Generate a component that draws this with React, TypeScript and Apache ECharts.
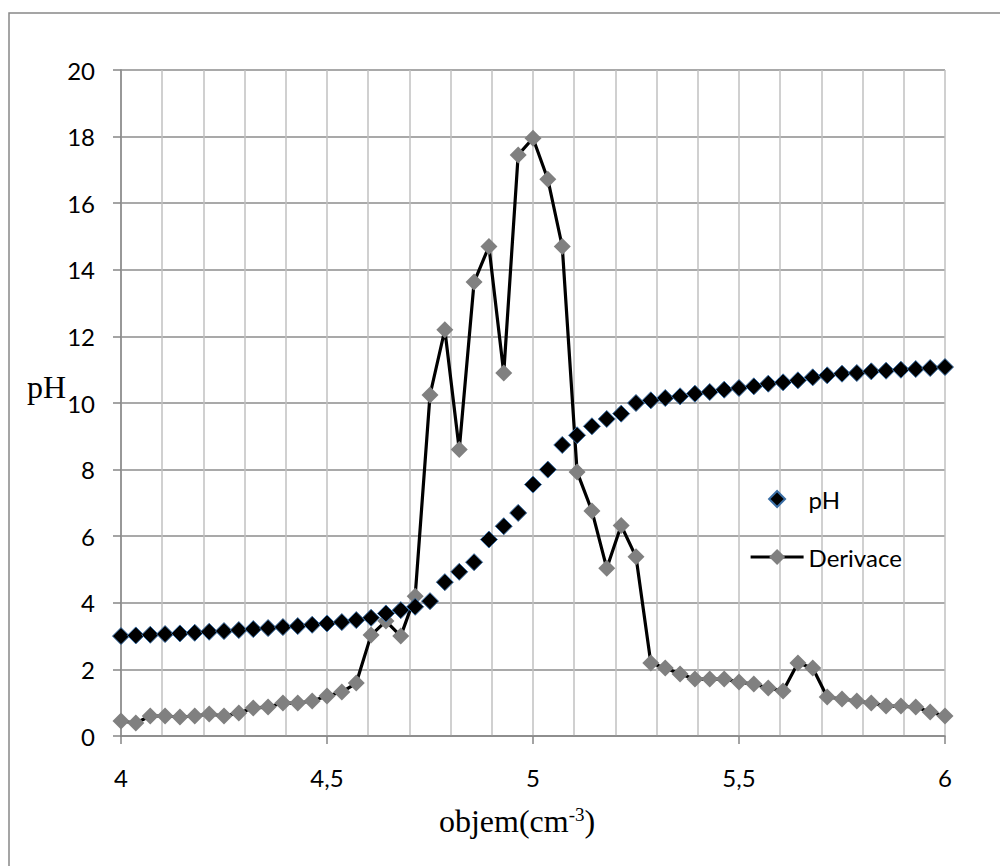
import React, { useEffect, useRef } from "react";
import * as echarts from "echarts";

const volume = [
  4, 4.036, 4.071, 4.107, 4.143, 4.179, 4.214, 4.25, 4.286, 4.321, 4.357, 4.393, 4.429, 4.464,
  4.5, 4.536, 4.571, 4.607, 4.643, 4.679, 4.714, 4.75, 4.786, 4.821, 4.857, 4.893, 4.929, 4.964,
  5, 5.036, 5.071, 5.107, 5.143, 5.179, 5.214, 5.25, 5.286, 5.321, 5.357, 5.393, 5.429, 5.464,
  5.5, 5.536, 5.571, 5.607, 5.643, 5.679, 5.714, 5.75, 5.786, 5.821, 5.857, 5.893, 5.929, 5.964, 6,
];

const phValues = [
  3.0, 3.02, 3.04, 3.06, 3.08, 3.1, 3.13, 3.15, 3.18, 3.21, 3.24, 3.27, 3.3, 3.34,
  3.38, 3.42, 3.48, 3.55, 3.68, 3.78, 3.88, 4.05, 4.62, 4.93, 5.22, 5.9, 6.3, 6.7,
  7.55, 8.0, 8.74, 9.03, 9.3, 9.52, 9.68, 10.0, 10.08, 10.15, 10.2, 10.28, 10.33, 10.4,
  10.45, 10.5, 10.58, 10.62, 10.68, 10.77, 10.83, 10.88, 10.9, 10.95, 10.97, 11.0, 11.02, 11.05, 11.08,
];

const derivace = [
  0.45, 0.39, 0.6, 0.6, 0.57, 0.6, 0.66, 0.6, 0.69, 0.84, 0.87, 0.99, 0.99, 1.05,
  1.2, 1.32, 1.59, 3.03, 3.45, 3.0, 4.2, 10.24, 12.2, 8.6, 13.63, 14.7, 10.9, 17.45,
  17.95, 16.72, 14.7, 7.93, 6.76, 5.04, 6.32, 5.38, 2.19, 2.04, 1.86, 1.71, 1.71, 1.71,
  1.62, 1.56, 1.44, 1.35, 2.19, 2.04, 1.17, 1.11, 1.05, 0.99, 0.9, 0.9, 0.87, 0.72, 0.6,
];

const seriesNames = ["pH", "Derivace"];
const yAxisTitle = "pH";

const comma = (v: number) => String(v).replace(".", ",");

export default function App() {
  const ref = useRef<HTMLDivElement>(null);
  useEffect(() => {
    if (!ref.current) return;
    const chart = echarts.init(ref.current, undefined, { renderer: "svg" });
    const tickFont = { fontFamily: "Lato", fontSize: 24, color: "#000" };
    chart.setOption({
      animation: false,
      backgroundColor: "#fff",
      grid: { left: 121, right: 55, top: 70, bottom: 130, containLabel: false },
      xAxis: {
        type: "value",
        min: 4,
        max: 6,
        interval: 0.5,
        axisLine: { show: true, lineStyle: { color: "#868686", width: 1.5 } },
        axisTick: { show: true, length: 8, lineStyle: { color: "#868686", width: 1.5 } },
        axisLabel: { ...tickFont, margin: 29, formatter: comma },
        splitLine: { show: true, lineStyle: { color: "#c0c0c0", width: 1.5 } },
        minorTick: { show: false, splitNumber: 5 },
        minorSplitLine: { show: true, lineStyle: { color: "#c0c0c0", width: 1.5 } },
      },
      yAxis: {
        type: "value",
        min: 0,
        max: 20,
        interval: 2,
        axisLine: { show: true, lineStyle: { color: "#868686", width: 1.5 } },
        axisTick: { show: true, length: 8, lineStyle: { color: "#868686", width: 1.5 } },
        axisLabel: { ...tickFont, margin: 26, formatter: comma },
        splitLine: { show: true, lineStyle: { color: "#8c8c8c", width: 1.5 } },
      },
      legend: {
        orient: "vertical",
        left: 744,
        top: 482,
        itemWidth: 53,
        itemHeight: 20,
        itemGap: 34,
        data: [
          { name: seriesNames[0], lineStyle: { width: 0 } },
          { name: seriesNames[1], lineStyle: { width: 3.2, color: "#000" } },
        ],
        textStyle: { fontFamily: "Lato", fontSize: 24, color: "#000" },
      },
      series: [
        {
          name: seriesNames[0],
          type: "line",
          symbol: "diamond",
          symbolSize: 17,
          showSymbol: true,
          z: 4,
          itemStyle: { color: "#000", borderColor: "#3a6ea5", borderWidth: 1 },
          lineStyle: { width: 0, color: "#000" },
          data: volume.map((x, i) => [x, phValues[i]]),
        },
        {
          name: seriesNames[1],
          type: "line",
          symbol: "diamond",
          symbolSize: 17,
          showSymbol: true,
          z: 3,
          itemStyle: { color: "#808080" },
          lineStyle: { color: "#000", width: 3.2 },
          data: volume.map((x, i) => [x, derivace[i]]),
        },
      ],
      graphic: [
        {
          type: "rect",
          silent: true,
          shape: { x: 9, y: 13, width: 1200, height: 1000 },
          style: { fill: "none", stroke: "#888", lineWidth: 1.5 },
        },
        {
          type: "text",
          x: 27,
          y: 387,
          style: {
            text: yAxisTitle,
            font: "32px 'Liberation Serif'",
            fill: "#000",
            verticalAlign: "middle",
            align: "left",
          },
        },
        {
          type: "text",
          x: 517,
          y: 821,
          style: {
            text: "{a|objem(cm}{s|-3}{a|)}",
            align: "center",
            verticalAlign: "middle",
            rich: {
              a: { fontFamily: "Liberation Serif", fontSize: 32, fill: "#000", verticalAlign: "bottom" },
              s: { fontFamily: "Liberation Serif", fontSize: 19, fill: "#000", verticalAlign: "top" },
            },
          },
        },
      ],
    });
    return () => chart.dispose();
  }, []);
  return (
    <div
      ref={ref}
      style={{ position: "absolute", left: 0, top: 0, width: 1000, height: 866 }}
    />
  );
}
